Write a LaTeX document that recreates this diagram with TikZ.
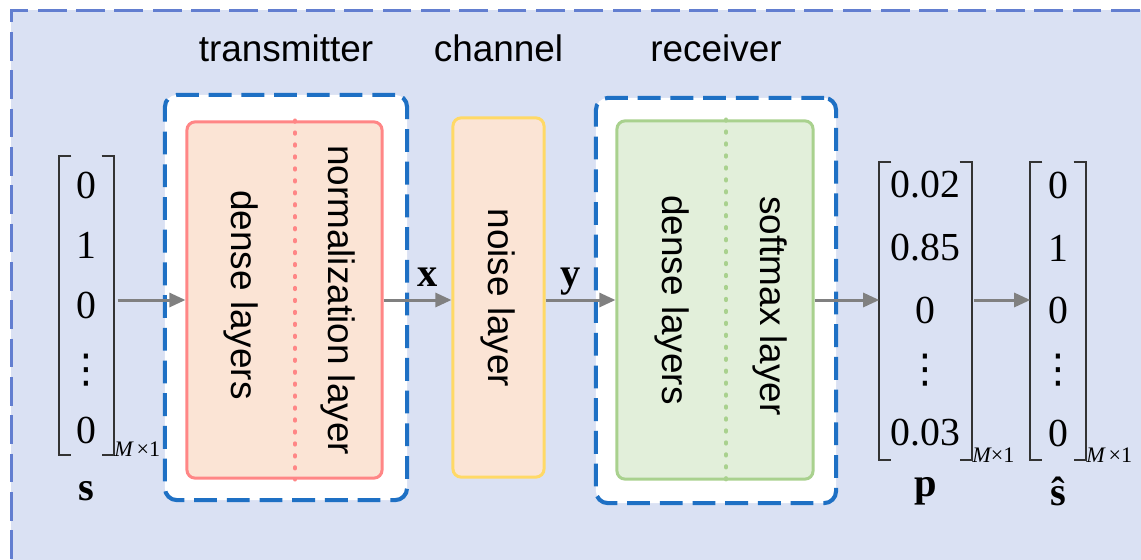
\documentclass[tikz,border=0pt]{standalone}
\usepackage{fontspec}
\setmainfont{Liberation Serif}
\setsansfont{Liberation Sans}
\newfontfamily\dotsfont{DejaVu Sans}
\usepackage{tikz}
\usetikzlibrary{arrows.meta,calc,positioning}
\definecolor{bgFill}{RGB}{218,225,243}
\definecolor{frameStroke}{RGB}{98,126,208}
\definecolor{grpStroke}{RGB}{30,112,196}
\definecolor{txFill}{RGB}{251,228,213}
\definecolor{txStroke}{RGB}{255,134,134}
\definecolor{chFill}{RGB}{251,228,213}
\definecolor{chStroke}{RGB}{255,217,102}
\definecolor{rxFill}{RGB}{226,239,218}
\definecolor{rxStroke}{RGB}{169,209,142}
\colorlet{arrowGray}{black!50}
\colorlet{bracketCol}{black!80}
\newcommand{\TitleY}{48}
\newcommand{\LabelY}{491}
\newcommand{\SerifLen}{12}
\newcommand{\Vdots}{{\dotsfont ⋮}}
\newcommand{\PlaceEntries}[3]{%
  % #1=prefix  #2=x  #3=list of value/y
  \foreach \v/\yy [count=\i] in {#3}{%
    \node[entry] (#1\i) at (#2,\yy) {\v};
  }%
}
\newcommand{\DrawBrackets}[1]{%
  % #1=vector node
  \draw[bracket] ($(#1.north west)+(\SerifLen,0)$) -- (#1.north west)
    -- (#1.south west) -- ++(\SerifLen,0);
  \draw[bracket] ($(#1.north east)+(-\SerifLen,0)$) -- (#1.north east)
    -- (#1.south east) -- ++(-\SerifLen,0);
}
\begin{document}
\begin{tikzpicture}[
  x=0.01cm, y=-0.01cm,
  title/.style    = {font=\fontsize{10.5}{12}\selectfont\sffamily},
  layerlbl/.style = {font=\fontsize{10.5}{12}\selectfont\sffamily, rotate=-90},
  entry/.style    = {font=\fontsize{11.3}{13}\selectfont, inner sep=0pt},
  sym/.style      = {font=\fontsize{11.5}{13}\selectfont\bfseries, inner sep=0pt},
  dimlbl/.style   = {font=\fontsize{6.3}{7}\selectfont, inner sep=0pt, anchor=west},
  framebox/.style = {draw=frameStroke, fill=bgFill, line width=0.77pt,
                     dash pattern=on 8.2pt off 2.7pt, inner sep=0pt},
  grpbox/.style   = {draw=grpStroke, fill=white, line width=1.15pt,
                     dash pattern=on 6.5pt off 2.8pt, rounded corners=3.4pt, inner sep=0pt},
  block/.style    = {line width=0.85pt, rounded corners=2.3pt, inner sep=0pt},
  vec/.style      = {inner sep=0pt},
  bracket/.style  = {draw=bracketCol, line width=0.45pt},
  flow/.style     = {draw=arrowGray, line width=0.85pt, -{Triangle[length=4.6pt,width=4pt]}},
  divline/.style  = {line width=1.1pt, line cap=round, dash pattern=on 0.4pt off 3pt},
]
\useasboundingbox (0,0) rectangle (1141,560);
\clip (0,0) rectangle (1141,560);

% ----------------------------------------------------------------
% Outer frame
% ----------------------------------------------------------------
\node[framebox, anchor=north west, minimum width=11.6cm, minimum height=5.7cm]
  (frame) at (10,9) {};

% ----------------------------------------------------------------
% Transmitter, channel, receiver
% ----------------------------------------------------------------
\node[grpbox, minimum width=2.42cm, minimum height=4.05cm] (tx) at (286,297.5) {};
\node[block, fill=txFill, draw=txStroke, minimum width=1.95cm, minimum height=3.56cm]
  (txin) at (284.5,300) {};
\draw[divline, txStroke] (txin.north -| 295,0) -- (txin.south -| 295,0);
\node[layerlbl] (txdense) at (241,295) {dense layers};
\node[layerlbl] (txnorm) at (338,300) {normalization layer};

\node[block, fill=chFill, draw=chStroke, minimum width=0.91cm, minimum height=3.59cm]
  (ch) at (498.5,297.5) {};
\node[layerlbl] (chnoise) at (498.5,298) {noise layer};

\node[grpbox, minimum width=2.40cm, minimum height=4.05cm] (rx) at (716,300.5) {};
\node[block, fill=rxFill, draw=rxStroke, minimum width=1.96cm, minimum height=3.58cm]
  (rxin) at (715,300) {};
\draw[divline, rxStroke] (rxin.north -| 726,0) -- (rxin.south -| 726,0);
\node[layerlbl] (rxdense) at (672,300) {dense layers};
\node[layerlbl] (rxsoft) at (770,306) {softmax layer};

% titles
\coordinate (titlerow) at (0,\TitleY);
\node[title] (txtitle) at (tx.north |- titlerow) {transmitter};
\node[title] (chtitle) at (ch.north |- titlerow) {channel};
\node[title] (rxtitle) at (rx.north |- titlerow) {receiver};

% ----------------------------------------------------------------
% Vectors
% ----------------------------------------------------------------
\node[vec, minimum width=0.53cm, minimum height=2.97cm] (sv) at (86.5,305.5) {};
\PlaceEntries{s}{86.5}{0/185, 1/245, 0/305, \Vdots/370, 0/430}
\DrawBrackets{sv}

\node[vec, minimum width=0.91cm, minimum height=2.96cm] (pv) at (925.5,311) {};
\PlaceEntries{p}{925.5}{0.02/185, 0.85/248, 0/310, \Vdots/370, 0.03/433}
\DrawBrackets{pv}

\node[vec, minimum width=0.54cm, minimum height=2.96cm] (shv) at (1058,311) {};
\PlaceEntries{h}{1058}{0/185, 1/248, 0/310, \Vdots/370, 0/433}
\DrawBrackets{shv}

% sizes and names
\node[dimlbl] (sdim) at ([yshift=1.6pt]sv.south east) {{\itshape M}\,×1};
\node[dimlbl] (pdim) at ([yshift=1.2pt]pv.south east) {{\itshape M}×1};
\node[dimlbl] (hdim) at ([yshift=1.2pt]shv.south east) {{\itshape M}\,×1};

\coordinate (labelrow) at (0,\LabelY);
\node[sym] (slbl) at (sv.south |- labelrow) {s};
\node[sym] (plbl) at (pv.south |- labelrow) {p};
\node[sym] (hlbl) at (shv.south |- labelrow) {\^{s}};

% ----------------------------------------------------------------
% Connections
% ----------------------------------------------------------------
\draw[flow, shorten <=1.1pt] (sv.east |- txin.west) -- (txin.west);
\draw[flow] (txin.east) -- node[pos=0.65, anchor=base, yshift=3.7pt, sym] {x} (ch.west |- txin.east);
\draw[flow] (ch.east |- rxin.west) -- node[pos=0.36, anchor=base, yshift=3.7pt, sym] {y} (rxin.west);
\draw[flow] (rxin.east) -- (pv.west |- rxin.east);
\draw[flow, shorten <=0.6pt] (pv.east |- rxin.east) -- (shv.west |- rxin.east);

\end{tikzpicture}
\end{document}
